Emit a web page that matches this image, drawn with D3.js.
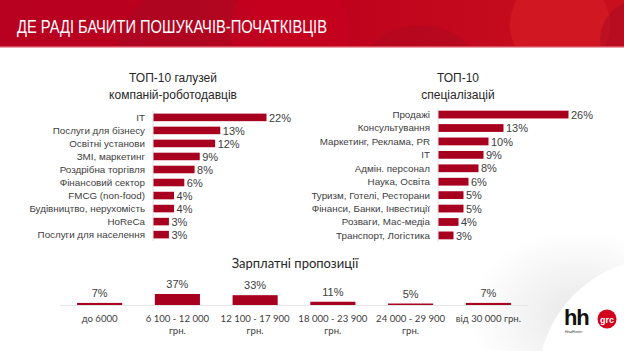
<!DOCTYPE html>
<html>
<head>
<meta charset="utf-8">
<script src="https://cdn.jsdelivr.net/npm/d3@7"></script>
<style>
  body { margin: 0; background: #fff; }
  svg { display: block; }
</style>
</head>
<body>
<script>
'use strict';

// chart data
var pageTitle = "ДЕ РАДІ БАЧИТИ ПОШУКАЧІВ-ПОЧАТКІВЦІВ";

var industryNames = ["IT", "Послуги для бізнесу", "Освітні установи", "ЗМІ, маркетинг",
    "Роздрібна торгівля", "Фінансовий сектор", "FMCG (non-food)",
    "Будівництво, нерухомість", "HoReCa", "Послуги для населення"];
var industryShare = [22, 13, 12, 9, 8, 6, 4, 4, 3, 3];

var specNames = ["Продажі", "Консультування", "Маркетинг, Реклама, PR", "IT",
    "Адмін. персонал", "Наука, Освіта", "Туризм, Готелі, Ресторани",
    "Фінанси, Банки, Інвестиції", "Розваги, Мас-медіа", "Транспорт, Логістика"];
var specShare = [26, 13, 10, 9, 8, 6, 5, 5, 4, 3];

var salaryRanges = [["до 6000"], ["6 100 - 12 000", "грн."], ["12 100 - 17 900", "грн."],
    ["18 000 - 23 900", "грн."], ["24 000 - 29 900", "грн."], ["від 30 000 грн."]];
var salaryShare = [7, 37, 33, 11, 5, 7];

var W = 624, H = 351;
var barColor = "#a8001f";
var labelFont = "'Liberation Sans', Arial, sans-serif";
var softFont = "Lato, 'Open Sans', sans-serif";

var svg = d3.select("body").append("svg")
    .attr("width", W).attr("height", H);

var defs = svg.append("defs");

// header band
var hg = defs.append("linearGradient").attr("id", "hdr")
    .attr("x1", 0).attr("y1", 0).attr("x2", 1).attr("y2", 0);
hg.append("stop").attr("offset", "0%").attr("stop-color", "#b80021");
hg.append("stop").attr("offset", "45%").attr("stop-color", "#bd001c");
hg.append("stop").attr("offset", "100%").attr("stop-color", "#c8101e");

svg.append("rect").attr("width", W).attr("height", 47).attr("fill", "url(#hdr)");

var hdrClip = defs.append("clipPath").attr("id", "hdrclip");
hdrClip.append("rect").attr("width", W).attr("height", 47);

// soft circles inside the header
var blobs = [
    {cx: 190, cy: 60, r: 75, c: "#a30c25", o: 0.45},
    {cx: 290, cy: 30, r: 60, c: "#c8001f", o: 0.6},
    {cx: 420, cy: 95, r: 70, c: "#a50a24", o: 0.4},
    {cx: 560, cy: 25, r: 50, c: "#d61c24", o: 0.7},
    {cx: 640, cy: 40, r: 40, c: "#a80a22", o: 0.5}
];
svg.append("g").attr("clip-path", "url(#hdrclip)")
  .selectAll("circle").data(blobs).join("circle")
    .attr("cx", d => d.cx).attr("cy", d => d.cy).attr("r", d => d.r)
    .attr("fill", d => d.c).attr("opacity", d => d.o);

svg.append("rect").attr("y", 46).attr("width", W).attr("height", 1.5)
    .attr("fill", "#d9485a");

svg.append("text")
    .attr("x", 17).attr("y", 33)
    .attr("fill", "#fff")
    .attr("font-family", labelFont)
    .attr("font-size", 18)
    .attr("textLength", 310).attr("lengthAdjust", "spacingAndGlyphs")
    .text(pageTitle);

// bottom-right grey swoosh behind the logo
var rg = defs.append("radialGradient").attr("id", "swoosh")
    .attr("cx", "70%").attr("cy", "70%").attr("r", "70%");
rg.append("stop").attr("offset", "0%").attr("stop-color", "#e8e8e8");
rg.append("stop").attr("offset", "100%").attr("stop-color", "#ffffff");
svg.append("rect").attr("x", 470).attr("y", 230).attr("width", 154).attr("height", 121)
    .attr("fill", "url(#swoosh)");
svg.append("circle").attr("cx", 662).attr("cy", 382).attr("r", 124).attr("fill", "#fff");

// horizontal bar chart helper
function hbar(names, values, opt) {
    var g = svg.append("g");
    var x = d3.scaleLinear().domain([0, opt.max]).range([opt.x0, opt.x1]);
    var y = d3.scaleBand().domain(names).range([opt.y0, opt.y1]).paddingInner(0.42).paddingOuter(0.2);

    g.append("line")
        .attr("x1", opt.x0).attr("x2", opt.x0)
        .attr("y1", opt.y0).attr("y2", opt.y1)
        .attr("stroke", "#d9d9d9").attr("stroke-width", 0.8);

    g.selectAll("rect.bar").data(values).join("rect")
        .attr("class", "bar")
        .attr("x", opt.x0 + 0.5)
        .attr("y", (d, i) => y(names[i]))
        .attr("width", d => x(d) - opt.x0)
        .attr("height", y.bandwidth())
        .attr("fill", barColor);

    g.selectAll("text.cat").data(names).join("text")
        .attr("class", "cat")
        .attr("x", opt.x0 - 8)
        .attr("y", d => y(d) + y.bandwidth() / 2)
        .attr("dy", "0.35em")
        .attr("text-anchor", "end")
        .attr("font-family", labelFont)
        .attr("font-size", 9.8)
        .attr("fill", "#404040")
        .text(d => d);

    g.selectAll("text.val").data(values).join("text")
        .attr("class", "val")
        .attr("x", d => x(d) + 3)
        .attr("y", (d, i) => y(names[i]) + y.bandwidth() / 2)
        .attr("dy", "0.38em")
        .attr("font-family", labelFont)
        .attr("font-size", 11)
        .attr("fill", "#404040")
        .text(d => d + "%");

    opt.title.forEach(function(t, i) {
        g.append("text")
            .attr("x", opt.tx).attr("y", opt.ty + i * 16.5)
            .attr("text-anchor", "middle")
            .attr("font-family", labelFont)
            .attr("font-size", 12)
            .attr("fill", "#262626")
            .text(t);
    });
}

hbar(industryNames, industryShare, {
    max: 22, x0: 153, x1: 266, y0: 111, y1: 241,
    title: ["ТОП-10 галузей", "компаній-роботодавців"], tx: 173, ty: 82
});

hbar(specNames, specShare, {
    max: 26, x0: 438, x1: 568, y0: 108, y1: 242,
    title: ["ТОП-10", "спеціалізацій"], tx: 458, ty: 82
});

// salary column chart
var sx = d3.scaleBand().domain(d3.range(salaryShare.length)).range([60, 528])
    .paddingInner(0.42).paddingOuter(0.22);
var sy = d3.scaleLinear().domain([0, 37]).range([305, 294]);

svg.append("text")
    .attr("x", 295).attr("y", 268)
    .attr("text-anchor", "middle")
    .attr("font-family", softFont)
    .attr("font-size", 13)
    .attr("fill", "#262626")
    .text("Зарплатні пропозиції");

svg.append("line")
    .attr("x1", 60).attr("x2", 528).attr("y1", 305.5).attr("y2", 305.5)
    .attr("stroke", "#e6e6e6").attr("stroke-width", 1);

svg.selectAll("rect.sal").data(salaryShare).join("rect")
    .attr("class", "sal")
    .attr("x", (d, i) => sx(i))
    .attr("y", d => sy(d))
    .attr("width", sx.bandwidth())
    .attr("height", d => sy(0) - sy(d))
    .attr("fill", barColor);

svg.selectAll("text.salv").data(salaryShare).join("text")
    .attr("class", "salv")
    .attr("x", (d, i) => sx(i) + sx.bandwidth() / 2)
    .attr("y", d => sy(d) - 6)
    .attr("text-anchor", "middle")
    .attr("font-family", labelFont)
    .attr("font-size", 11)
    .attr("fill", "#404040")
    .text(d => d + "%");

var salLab = svg.selectAll("text.sall").data(salaryRanges).join("text")
    .attr("class", "sall")
    .attr("text-anchor", "middle")
    .attr("font-family", softFont)
    .attr("font-size", 9.6)
    .attr("fill", "#404040");
salLab.selectAll("tspan").data((d, i) => d.map(s => ({s: s, i: i}))).join("tspan")
    .attr("x", d => sx(d.i) + sx.bandwidth() / 2)
    .attr("y", (d, j) => 322 + j * 12)
    .text(d => d.s);

// logo
var logo = svg.append("g");
logo.append("text")
    .attr("x", 564).attr("y", 325)
    .attr("font-family", "'Liberation Sans', Arial, sans-serif")
    .attr("font-weight", "bold")
    .attr("font-size", 22)
    .attr("letter-spacing", -1.2)
    .attr("fill", "#111")
    .text("hh");
logo.append("circle").attr("cx", 607).attr("cy", 319).attr("r", 9.5).attr("fill", "#d2001c");
logo.append("text")
    .attr("x", 607).attr("y", 322.5)
    .attr("text-anchor", "middle")
    .attr("font-family", "'Liberation Sans', Arial, sans-serif")
    .attr("font-weight", "bold")
    .attr("font-size", 9)
    .attr("fill", "#fff")
    .text("grc");
logo.append("text")
    .attr("x", 565).attr("y", 333)
    .attr("font-family", "'Liberation Sans', Arial, sans-serif")
    .attr("font-size", 3.2)
    .attr("fill", "#333")
    .text("HeadHunter");
</script>
</body>
</html>
